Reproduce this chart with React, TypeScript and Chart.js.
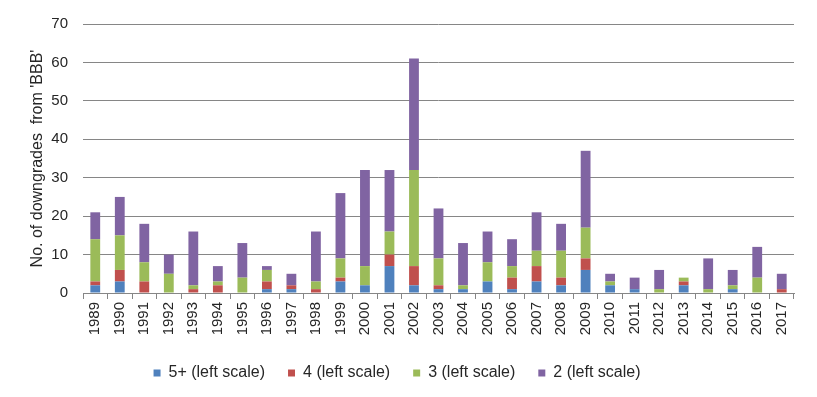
import React, { useEffect, useRef } from "react";
import { Chart, registerables } from "chart.js";

Chart.register(...registerables);

const years = ["1989","1990","1991","1992","1993","1994","1995","1996","1997","1998","1999","2000","2001","2002","2003","2004","2005","2006","2007","2008","2009","2010","2011","2012","2013","2014","2015","2016","2017"];
const fivePlus = [2,3,0,0,0,0,0,1,1,0,3,2,7,2,1,1,3,1,3,2,6,2,1,0,2,0,1,0,0];
const four = [1,3,3,0,1,2,0,2,1,1,1,0,3,5,1,0,0,3,4,2,3,0,0,0,1,0,0,0,1];
const three = [11,9,5,5,1,1,4,3,0,2,5,5,6,25,7,1,5,3,4,7,8,1,0,1,1,1,1,4,0];
const two = [7,10,10,5,14,4,9,1,3,13,17,25,16,29,13,11,8,7,10,7,20,2,3,5,0,8,4,8,4];
const yTicks = [0,10,20,30,40,50,60,70];

const FONT = "'Liberation Sans', Arial, sans-serif";
const TEXT = "#262626";

export default function App() {
  const ref = useRef<HTMLCanvasElement | null>(null);
  useEffect(() => {
    if (!ref.current) return;
    const mk = (label: string, data: number[], color: string) => ({
      label, data, backgroundColor: color, borderWidth: 0,
      barPercentage: 0.4, categoryPercentage: 1.0,
    });
    const chart = new Chart(ref.current, {
      type: "bar",
      data: {
        labels: years,
        datasets: [
          mk("5+ (left scale)", fivePlus, "#4F81BD"),
          mk("4 (left scale)", four, "#C0504D"),
          mk("3 (left scale)", three, "#9BBB59"),
          mk("2 (left scale)", two, "#8064A2"),
        ],
      },
      options: {
        animation: false,
        responsive: false,
        maintainAspectRatio: false,
        layout: { padding: { left: 0, right: 23, top: 16, bottom: 6 } },
        plugins: {
          tooltip: { enabled: false },
          legend: {
            position: "bottom",
            labels: {
              boxWidth: 7, boxHeight: 7, padding: 23,
              color: TEXT,
              font: { family: FONT, size: 16 },
            },
          },
        },
        scales: {
          x: {
            stacked: true,
            afterFit: (axis: any) => { axis.height = 49; },
            grid: {
              offset: true, drawOnChartArea: false, drawTicks: true,
              tickLength: 6, color: "#868686",
            },
            border: { display: true, color: "#868686", width: 1 },
            ticks: {
              maxRotation: 90, minRotation: 90, autoSkip: false,
              color: TEXT, font: { family: FONT, size: 15 }, padding: 3,
            },
          },
          y: {
            stacked: true,
            min: 0, max: 70,
            afterBuildTicks: (axis: any) => { axis.ticks = yTicks.map((v) => ({ value: v })); },
            afterFit: (axis: any) => { axis.width = 83; },
            grid: { color: "#868686", drawTicks: false },
            border: { display: false },
            ticks: {
              color: TEXT, font: { family: FONT, size: 15 }, padding: 15,
            },
            title: {
              display: true, text: "No. of downgrades  from 'BBB'",
              color: TEXT, font: { family: FONT, size: 16 }, padding: { top: 28, bottom: 0 },
            },
          },
        },
      },
    } as any);
    return () => chart.destroy();
  }, []);
  return (
    <div style={{ position: "fixed", left: 0, top: 0, width: 817, height: 397, background: "#fff" }}>
      <canvas ref={ref} width={817} height={397} />
    </div>
  );
}
